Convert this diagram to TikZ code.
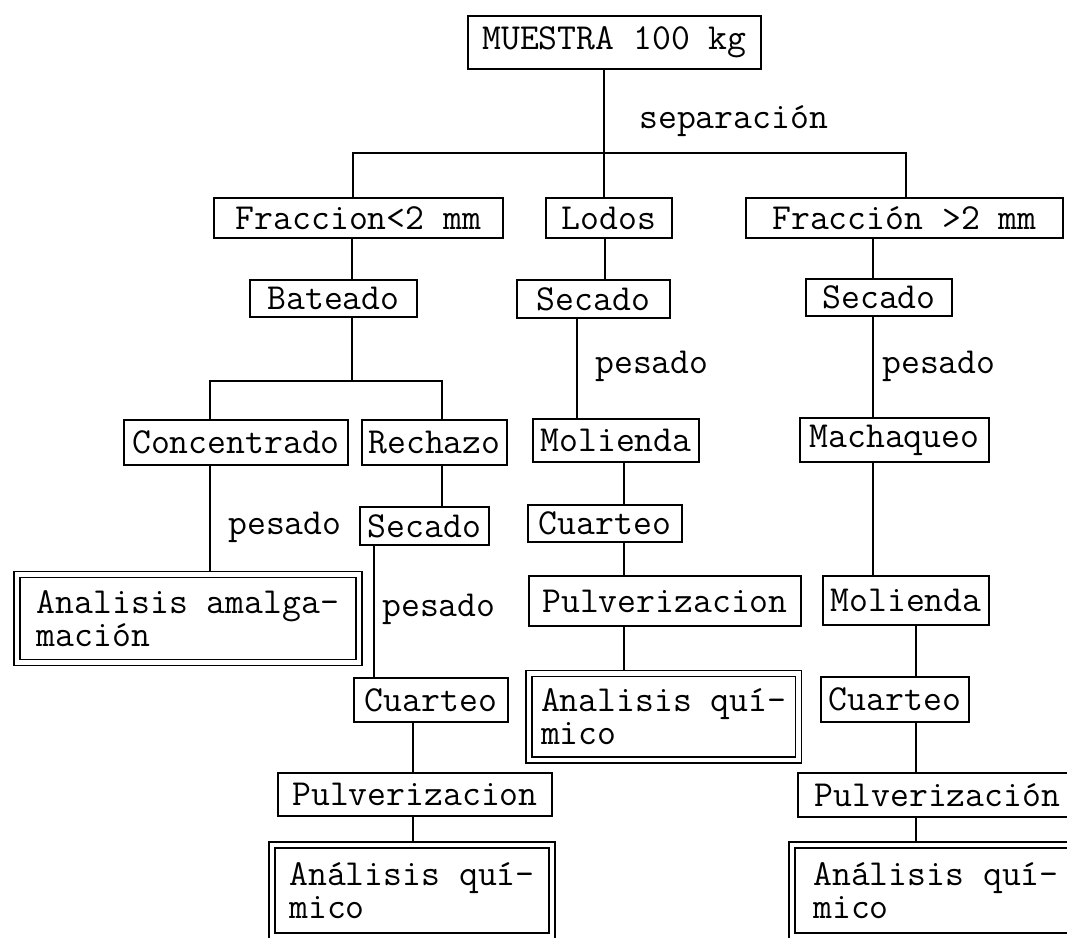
\documentclass[tikz,border=0pt]{standalone}
\usepackage{fontspec}
\begin{document}
\begin{tikzpicture}[x=0.75pt,y=-0.75pt,
  txt/.style={font=\ttfamily\fontsize{27.5pt}{25pt}\selectfont, inner sep=0pt},
  box/.style={txt, draw, line width=1.4pt, rectangle},
  dbox/.style={txt, draw, line width=1.1pt, double, double distance=3.4pt, align=left},
  conn/.style={line width=1.1pt},
  dconn/.style={line width=1.1pt, shorten >=2.25pt},
  sz/.style 2 args={minimum width=#1*0.75pt, minimum height=#2*0.75pt}
]
\useasboundingbox (0,0) rectangle (1067,938);

% boxes
\node[box, sz={293}{53}] (m)   at (614.5,42.5) {MUESTRA 100 kg};
\node[box, sz={289}{40}] (f1)  at (358.5,218)  {Fraccion<2 mm};
\node[box, sz={126}{40}] (lo)  at (609,218)    {Lodos};
\node[box, sz={317}{40}] (f2)  at (904.5,218)  {Fracción >2 mm};
\node[box, sz={167}{37}] (ba)  at (333.5,298.5) {Bateado};
\node[box, sz={153}{38}] (s1)  at (593.5,299)  {Secado};
\node[box, sz={146}{37}] (s2)  at (879,297.5)  {Secado};
\node[box, sz={224}{45}] (co)  at (236,442.5)  {Concentrado};
\node[box, sz={145}{45}] (re)  at (434.5,442.5) {Rechazo};
\node[box, sz={166}{43}] (mo1) at (616,440.5)  {Molienda};
\node[box, sz={189}{44}] (ma)  at (894.5,440)  {Machaqueo};
\node[box, sz={129}{38}] (s3)  at (424.5,526)  {Secado};
\node[box, sz={154}{37}] (cu2) at (605,523.5)  {Cuarteo};
\node[box, sz={272}{50}] (pu2) at (665,601)    {Pulverizacion};
\node[box, sz={166}{49}] (mo2) at (906,600.5)  {Molienda};
\node[box, sz={154}{44}] (cu1) at (431,700)    {Cuarteo};
\node[box, sz={148}{45}] (cu3) at (895,699.5)  {Cuarteo};
\node[box, sz={274}{43}] (pu1) at (415,794.5)  {Pulverizacion};
\node[box, sz={279}{44}] (pu3) at (937.5,795)  {Pulverización};

% double boxes
\node[dbox, sz={342}{88}]     (am)  at (188,618.5)  {Analisis amalga-\\mación};
\node[dbox, sz={269.5}{86.5}] (aq2) at (663.75,716.75) {Analisis quí-\\mico};
\node[dbox, sz={280}{91}]     (aq1) at (412,890.5)  {Análisis quí-\\mico};
\node[dbox, sz={288}{91}]     (aq3) at (936,890.5)  {Análisis quí-\\mico};

% labels
\node[txt, anchor=base west] (sep) at (639,129) {separación};
\node[txt, anchor=base west] (pe1) at (595,373) {pesado};
\node[txt, anchor=base west] (pe2) at (882,373) {pesado};
\node[txt, anchor=base west] (pe3) at (228,534) {pesado};
\node[txt, anchor=base west] (pe4) at (382,616) {pesado};

% connector coordinates
\coordinate (vA) at (604,153);
\coordinate (hL) at (353,153);
\coordinate (hR) at (906,153);
\coordinate (vB) at (352,381);
\coordinate (bL) at (210,381);
\coordinate (bR) at (442,381);
\coordinate (vC) at (605,0);
\coordinate (vD) at (577,0);
\coordinate (vE) at (624,0);
\coordinate (vF) at (873,0);
\coordinate (vG) at (916,0);
\coordinate (vJ) at (374,0);
\coordinate (vK) at (413,0);

% connectors
\draw[conn] (m.south -| vA) -- (lo.north -| vA);
\draw[conn] (f1.north -| hL) -- (hL) -- (hR) -- (f2.north -| hR);
\draw[conn] (f1.south -| vB) -- (ba.north -| vB);
\draw[conn] (ba.south -| vB) -- (vB);
\draw[conn] (co.north -| bL) -- (bL) -- (bR) -- (re.north -| bR);
\draw[dconn] (co.south -| bL) -- (am.north -| bL);
\draw[conn] (re.south -| bR) -- (s3.north -| bR);
\draw[conn] (s3.south -| vJ) -- (cu1.north -| vJ);
\draw[conn] (cu1.south -| vK) -- (pu1.north -| vK);
\draw[dconn] (pu1.south -| vK) -- (aq1.north -| vK);
\draw[conn] (lo.south -| vC) -- (s1.north -| vC);
\draw[conn] (s1.south -| vD) -- (mo1.north -| vD);
\draw[conn] (mo1.south -| vE) -- (cu2.north -| vE);
\draw[conn] (cu2.south -| vE) -- (pu2.north -| vE);
\draw[dconn] (pu2.south -| vE) -- (aq2.north -| vE);
\draw[conn] (f2.south -| vF) -- (s2.north -| vF);
\draw[conn] (s2.south -| vF) -- (ma.north -| vF);
\draw[conn] (ma.south -| vF) -- (mo2.north -| vF);
\draw[conn] (mo2.south -| vG) -- (cu3.north -| vG);
\draw[conn] (cu3.south -| vG) -- (pu3.north -| vG);
\draw[dconn] (pu3.south -| vG) -- (aq3.north -| vG);
\end{tikzpicture}
\end{document}
